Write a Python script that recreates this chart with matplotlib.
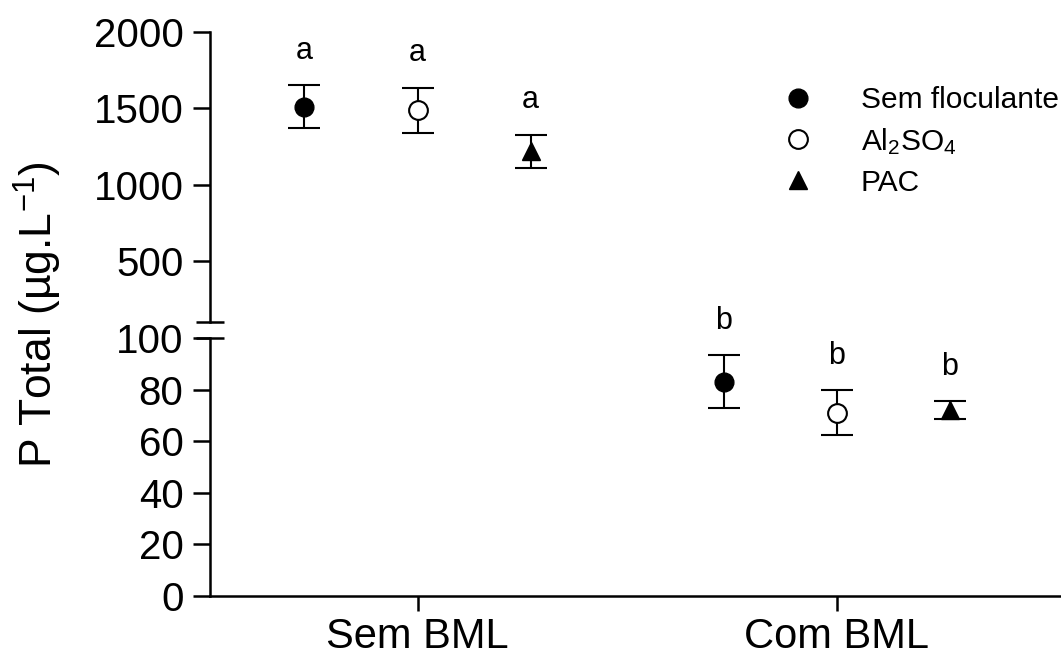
import matplotlib
matplotlib.use("Agg")
import matplotlib.pyplot as plt
import numpy as np

plt.rcParams["font.family"] = ["Liberation Sans", "DejaVu Sans"]
plt.rcParams["mathtext.default"] = "regular"

groups = ["Sem BML", "Com BML"]
series = ["Sem floculante", "Al$_2$SO$_4$", "PAC"]
means = {
    "Sem floculante": [1510, 83.0],
    "Al$_2$SO$_4$": [1487, 71.0],
    "PAC": [1220, 72.1],
}
errors = {
    "Sem floculante": [141, 10.3],
    "Al$_2$SO$_4$": [148, 8.7],
    "PAC": [108, 3.5],
}
letters = {
    "Sem floculante": ["a", "b"],
    "Al$_2$SO$_4$": ["a", "b"],
    "PAC": ["a", "b"],
}
offsets = [-0.27, 0.0, 0.27]
styles = {
    "Sem floculante": dict(marker="o", mfc="black", mec="black", ms=13.5),
    "Al$_2$SO$_4$": dict(marker="o", mfc="white", mec="black", ms=13.5, mew=1.5),
    "PAC": dict(marker="^", mfc="black", mec="black", ms=12.5),
}

W, H = 1061, 659
fig = plt.figure(figsize=(W / 100, H / 100), dpi=100)
left = 210 / W
width = 1 - left
ax_lo = fig.add_axes([left, 1 - 596 / H, width, (596 - 338) / H])
ax_hi = fig.add_axes([left, 1 - 322 / H, width, (322 - 32) / H], sharex=ax_lo)
ax_hi.patch.set_visible(False)

x = np.arange(len(groups))
for ax, gi, lim in [(ax_hi, 0, (100, 2000)), (ax_lo, 1, (0, 100))]:
    for s, off in zip(series, offsets):
        xv = x[gi] + off
        m = means[s][gi]
        e = errors[s][gi]
        ax.errorbar(xv, m, yerr=e, fmt="none", ecolor="black", elinewidth=1.5,
                    capsize=11.5, capthick=1.5, zorder=2)
        ax.plot(xv, m, linestyle="none", zorder=3, label=s, **styles[s])
        ax.annotate(letters[s][gi], (xv, m + e), xytext=(0, 19), textcoords="offset points",
                    ha="center", va="baseline", fontsize=22, annotation_clip=False)
    ax.set_ylim(*lim)
    for sp in ["top", "right"]:
        ax.spines[sp].set_visible(False)
    ax.spines["left"].set_linewidth(1.8)
    ax.tick_params(axis="y", direction="out", length=12, width=1.8, labelsize=29, pad=7)
    ax.yaxis.remove_overlapping_locs = False
    ax.set_yticks([100], minor=True)
    ax.tick_params(axis="y", which="minor", direction="inout", length=20, width=1.8)

ax_hi.spines["bottom"].set_visible(False)
ax_hi.tick_params(axis="x", which="both", bottom=False, labelbottom=False)
ax_hi.set_yticks([500, 1000, 1500, 2000])

ax_lo.set_yticks([0, 20, 40, 60, 80, 100])
ax_lo.spines["bottom"].set_linewidth(1.8)
ax_lo.set_xticks(x)
ax_lo.set_xticklabels(groups)
ax_lo.tick_params(axis="x", direction="out", length=11, width=1.8, labelsize=30, pad=4)
ax_lo.set_xlim(-0.495, 1.535)

fig.text(38 / W, 1 - 315 / H, "P Total (µg.L$^{-1}$)", rotation=90, ha="center", va="center",
         fontsize=32)

ax_hi.legend(loc="upper left", bbox_to_anchor=(783 / W, 1 - 86 / H), bbox_transform=fig.transFigure,
             frameon=False, fontsize=21.5, handlelength=1.0, handletextpad=1.6,
             labelspacing=0.4, borderpad=0, borderaxespad=0)

fig.savefig("out.png", dpi=100)
